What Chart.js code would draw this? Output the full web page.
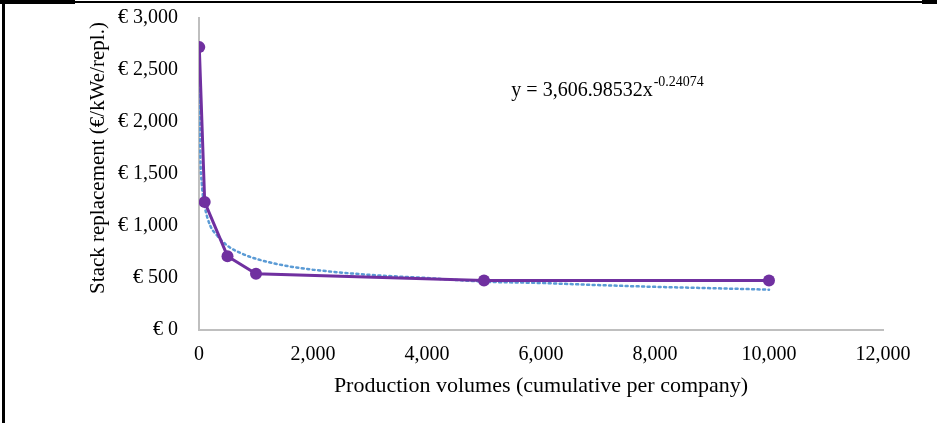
<!DOCTYPE html>
<html>
<head>
<meta charset="utf-8">
<script src="https://cdn.jsdelivr.net/npm/chart.js@4.4.1/dist/chart.umd.min.js"></script>
<style>
    html, body { margin: 0; padding: 0; background: #ffffff; }
    #wrap { width: 937px; height: 423px; position: relative; }
</style>
</head>
<body>
<div id="wrap"><canvas id="learningChart" width="937" height="423"></canvas></div>
<script>
(function () {
    // observed cost per production volume
    const volumes = [5, 100, 500, 1000, 5000, 10000];
    const costs = [2720, 1230, 710, 540, 475, 475];

    // power trend line
    const trendVolumes = [5, 20, 50, 100, 200, 300, 500, 750, 1000, 1500, 2000, 3000, 4000, 5000, 6000, 7000, 8000, 9000, 10000];
    const trendCosts = [2470, 1760, 1400, 1190, 1000, 920, 810, 735, 685, 620, 580, 530, 500, 465, 452, 432, 415, 402, 388];

    const xTicks = [0, 2000, 4000, 6000, 8000, 10000, 12000];
    const yTicks = [0, 500, 1000, 1500, 2000, 2500, 3000];

    const purple = '#7030a0';
    const blue = '#5b9bd5';
    const axisGrey = '#bfbfbf';
    const serif = "'Liberation Serif', 'Times New Roman', serif";

    const fmt = (v) => Number(v).toLocaleString('en-US');

    const extras = {
        id: 'extras',
        afterDraw(chart) {
            const ctx = chart.ctx;
            const xs = chart.scales.x;
            const ys = chart.scales.y;
            ctx.save();

            // y axis title
            ctx.fillStyle = '#000000';
            ctx.font = '21px ' + serif;
            ctx.textAlign = 'center';
            ctx.textBaseline = 'middle';
            ctx.translate(98, 158);
            ctx.rotate(-Math.PI / 2);
            ctx.fillText('Stack replacement (€/kWe/repl.)', 0, 0);
            ctx.setTransform(1, 0, 0, 1, 0, 0);

            // trend equation
            const ex = xs.getPixelForValue(5480);
            const ey = ys.getPixelForValue(2300);
            ctx.textAlign = 'left';
            ctx.textBaseline = 'middle';
            ctx.font = '20px ' + serif;
            const main = 'y = 3,606.98532x';
            ctx.fillText(main, ex, ey);
            const w = ctx.measureText(main).width;
            ctx.font = '14px ' + serif;
            ctx.fillText('-0.24074', ex + w + 1, ey - 8);

            // frame lines
            ctx.fillStyle = '#000000';
            ctx.fillRect(2, 0, 3, 423);
            ctx.fillRect(0, 1, 937, 2);
            ctx.fillRect(0, 0, 75, 4);
            ctx.fillRect(922, 0, 15, 4);
            ctx.restore();
        }
    };

    new Chart(document.getElementById('learningChart'), {
        type: 'line',
        data: {
            datasets: [{
                label: 'Stack replacement',
                data: volumes.map((v, i) => ({ x: v, y: costs[i] })),
                borderColor: purple,
                backgroundColor: purple,
                borderWidth: 3,
                pointRadius: 6,
                pointHoverRadius: 6,
                pointBackgroundColor: purple,
                pointBorderWidth: 0,
                tension: 0,
                order: 0
            }, {
                label: 'Power trend',
                data: trendVolumes.map((v, i) => ({ x: v, y: trendCosts[i] })),
                borderColor: blue,
                borderWidth: 2.5,
                borderDash: [2, 3.5],
                borderCapStyle: 'round',
                pointRadius: 0,
                cubicInterpolationMode: 'monotone',
                fill: false,
                order: 1
            }]
        },
        options: {
            responsive: false,
            animation: false,
            events: [],
            layout: { padding: { top: 18, right: 54, bottom: 0, left: 0 } },
            plugins: {
                legend: { display: false },
                tooltip: { enabled: false }
            },
            scales: {
                x: {
                    type: 'linear',
                    min: 0,
                    max: 12000,
                    afterBuildTicks: (scale) => { scale.ticks = xTicks.map((v) => ({ value: v })); },
                    afterFit: (scale) => { scale.height = 93; },
                    grid: { display: false, drawTicks: false },
                    border: { display: true, color: axisGrey, width: 2 },
                    ticks: {
                        padding: 13,
                        color: '#000000',
                        font: { family: serif, size: 20 },
                        maxRotation: 0,
                        callback: (v) => fmt(v)
                    },
                    title: {
                        display: true,
                        text: 'Production volumes (cumulative per company)',
                        color: '#000000',
                        font: { family: serif, size: 22 },
                        padding: { top: 0, bottom: 24 }
                    }
                },
                y: {
                    type: 'linear',
                    min: 0,
                    max: 3000,
                    afterBuildTicks: (scale) => { scale.ticks = yTicks.map((v) => ({ value: v })); },
                    afterFit: (scale) => {
                        scale.width = 199;
                        scale.paddingTop = 0;
                        scale.paddingBottom = 0;
                    },
                    grid: { display: false, drawTicks: false },
                    border: { display: true, color: axisGrey, width: 2 },
                    ticks: {
                        padding: 21,
                        color: '#000000',
                        font: { family: serif, size: 20 },
                        callback: (v) => '€ ' + fmt(v)
                    }
                }
            }
        },
        plugins: [extras]
    });
})();
</script>
</body>
</html>
